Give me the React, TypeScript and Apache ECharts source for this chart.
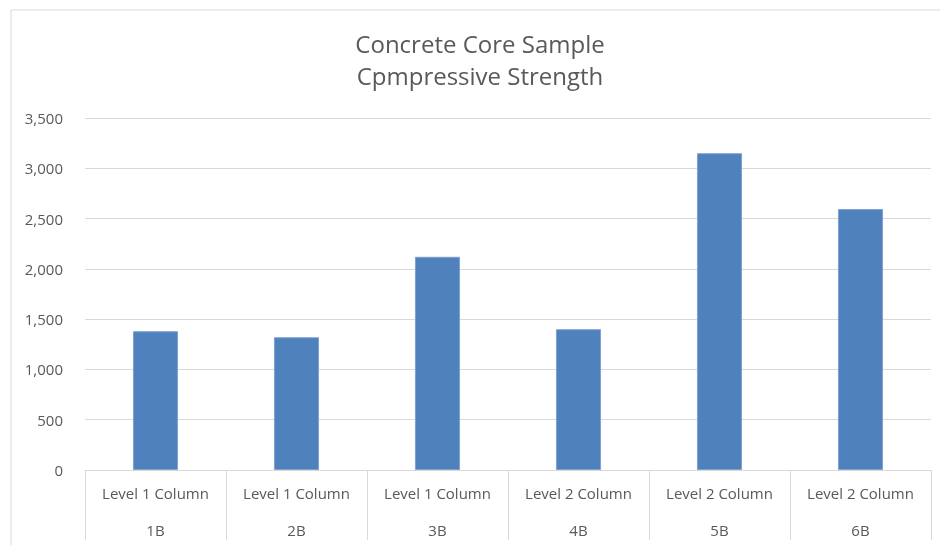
import React, { useEffect, useRef } from "react";
import * as echarts from "echarts";

const groups = ["Level 1 Column", "Level 1 Column", "Level 1 Column", "Level 2 Column", "Level 2 Column", "Level 2 Column"];
const samples = ["1B", "2B", "3B", "4B", "5B", "6B"];
const strength = [1380, 1320, 2120, 1400, 3150, 2595];
const titleLines = ["Concrete Core Sample", "Cpmpressive Strength"];

export default function App() {
  const ref = useRef<HTMLDivElement>(null);
  useEffect(() => {
    if (!ref.current) return;
    const chart = echarts.init(ref.current, undefined, { renderer: "svg" });
    const font = "'Open Sans', sans-serif";
    chart.setOption({
      animation: false,
      grid: { left: 85, top: 118, width: 846, height: 352, outerBoundsMode: "none", containLabel: false },
      graphic: [
        {
          type: "rect",
          shape: { x: 11, y: 10, width: 1200, height: 800 },
          style: { fill: "none", stroke: "#d9d9d9", lineWidth: 1 },
          silent: true,
        },
        {
          type: "text",
          x: 480,
          y: 59,
          style: {
            text: titleLines.join("\n"),
            font: `24px ${font}`,
            fill: "#595959",
            align: "center",
            verticalAlign: "middle",
            lineHeight: 32,
          },
        },
      ],
      xAxis: {
        type: "category",
        data: samples.map((s, i) => groups[i] + "\n" + s),
        axisLine: { lineStyle: { color: "#d9d9d9" } },
        axisTick: { show: true, length: 70, interval: 0, lineStyle: { color: "#d9d9d9" } },
        axisLabel: {
          interval: 0,
          color: "#595959",
          fontFamily: font,
          fontSize: 15,
          lineHeight: 37,
          margin: 4,
        },
      },
      yAxis: {
        type: "value",
        min: 0,
        max: 3500,
        interval: 500,
        axisLine: { show: false },
        axisTick: { show: false },
        splitLine: { lineStyle: { color: "#d9d9d9" } },
        axisLabel: {
          color: "#595959",
          fontFamily: font,
          fontSize: 15,
          margin: 22,
          formatter: (v: number) => v.toLocaleString("en-US"),
        },
      },
      series: [
        {
          type: "bar",
          data: strength,
          barWidth: "32%",
          itemStyle: { color: "#4f81bd", borderColor: "#7fa3d1", borderWidth: 1 },
        },
      ],
    });
    return () => chart.dispose();
  }, []);
  return <div ref={ref} style={{ position: "fixed", left: 0, top: 0, width: 940, height: 545 }} />;
}
